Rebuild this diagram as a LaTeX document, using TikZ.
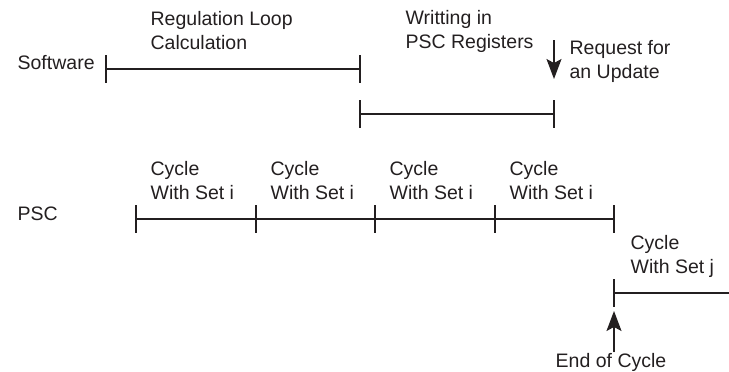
\documentclass[tikz,border=0pt]{standalone}
\usepackage{fontspec}
\setmainfont{Liberation Sans}
\usetikzlibrary{arrows.meta, positioning}
\definecolor{ink}{HTML}{231F20}

\begin{document}
\begin{tikzpicture}[x=1pt, y=-1pt, line width=1.3pt, draw=ink,
  lbl/.style={anchor=west, align=left, inner sep=0pt, text=ink,
    font=\fontsize{19.5}{24}\selectfont},
  tickbar/.style={draw=ink, line width=1.5pt},
  evt/.style={-{Stealth[length=20pt, width=15pt, inset=4pt]}, draw=ink, fill=ink}]
  \useasboundingbox (0,0) rectangle (729,372);
  % Software row
  \node[lbl] (sw) at (17,63) {Software};
  \coordinate (s0) at (106,69);
  \coordinate (s1) at (360,69);
  \coordinate (w0) at (360,114);
  \coordinate (w1) at (554,114);
  \draw (s0) -- (s1);
  \draw (w0) -- (w1);
  \foreach \c in {s0,s1,w0,w1}
    \draw[tickbar] ([yshift=14pt]\c) -- ([yshift=-14pt]\c);
  \node[lbl] (calc) at (150,31) {Regulation Loop\\Calculation};
  \node[lbl] (wr) at (405,31) {Writting in\\PSC Registers};
  \node[lbl] (req) at (569,61) {Request for\\an Update};
  % Request for an update
  \coordinate (rq0) at (554,40);
  \coordinate (rq1) at (554,79);
  \draw[evt] (rq0) -- (rq1);
  % PSC row
  \node[lbl] (psc) at (17,214) {PSC};
  \foreach \i/\x in {0/136,1/256,2/375,3/495,4/614}
    \coordinate (p\i) at (\x,219);
  \draw (p0) -- (p4);
  \foreach \i in {0,...,4}
    \draw[tickbar] ([yshift=14pt]p\i) -- ([yshift=-14pt]p\i);
  \foreach \i/\x in {0/136,1/256,2/375,3/495}
    \node[lbl] (cyc\i) at (\x+14,181) {Cycle\\With Set i};
  % Next cycle
  \coordinate (q0) at (614,293);
  \coordinate (q1) at (729,293);
  \draw (q0) -- (q1);
  \draw[tickbar] ([yshift=14pt]q0) -- ([yshift=-14pt]q0);
  \node[lbl] (cycj) at (630,256) {Cycle\\With Set j};
  % End of cycle
  \node[lbl, anchor=center] (eoc) at (611,362) {End of Cycle};
  \coordinate (ea) at (614,311);
  \draw[evt] (eoc.north -| ea) -- (ea);
\end{tikzpicture}
\end{document}
